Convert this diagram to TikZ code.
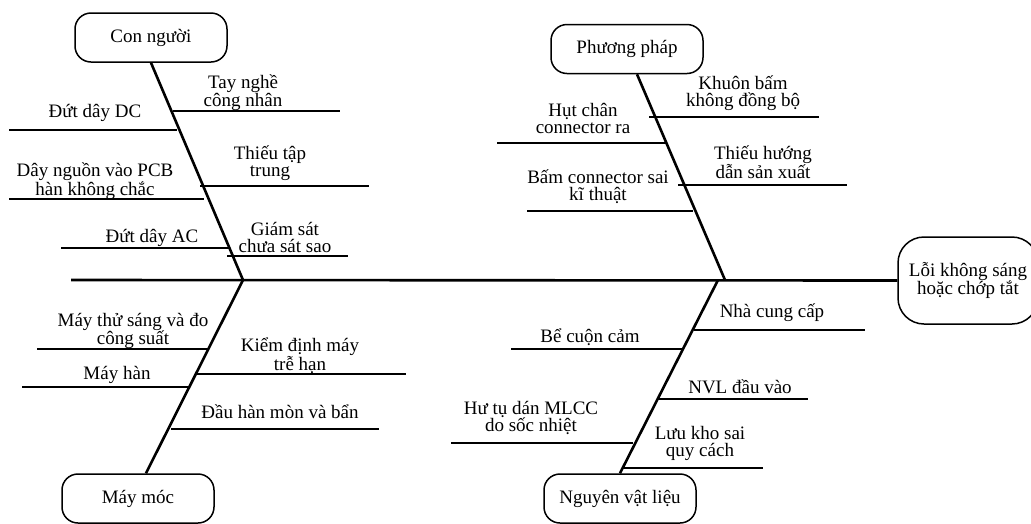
\documentclass[tikz,border=0pt]{standalone}
\usepackage{fontspec}
\setmainfont{Liberation Serif}
\usetikzlibrary{calc}

\begin{document}
\begin{tikzpicture}[x=1pt,y=-1pt,
    font=\fontsize{19pt}{17pt}\selectfont,
    bone/.style={line width=2.6pt},
    rib/.style={line width=2.2pt},
    catbox/.style={draw,line width=1.5pt,rounded corners=16pt,minimum width=152pt,minimum height=49pt,inner sep=0pt},
    lbl/.style={align=center,inner sep=0pt}]
      \useasboundingbox (0,0) rectangle (1031,523);
      % khung va dau ca
      \node[catbox] (con) at (151,37.5) {Con người};
      \node[catbox] (pp) at (627,49) {Phương pháp};
      \node[catbox] (may) at (138,498.5) {Máy móc};
      \node[catbox] (nvl) at (620,498.5) {Nguyên vật liệu};
      \node[draw,line width=1.5pt,rounded corners=26pt,minimum width=140pt,minimum height=87pt,align=center,inner sep=0pt] (loi) at (968,280.5) {Lỗi không sáng\\hoặc chớp tắt};
      \coordinate (duoi) at (71,280);
      \coordinate (jl) at (243,280);
      \coordinate (jr) at (725,280);
      \draw [bone] (duoi) -- (loi.west);
      \draw [bone] (con.south) -- (jl);
      \draw [bone] ($(pp.south)+(10,0)$) -- (jr);
      \draw [bone] (jl) -- ($(may.north)+(8,0)$);
      \draw [bone] ($(jr)+(-7,0)$) -- (nvl.north);
      % con nguoi
      \draw [rib] (173,111) -- (340,111);
      \node[lbl] (tayn) at (243,93) {Tay nghề\\công nhân};
      \draw [rib] (9,130) -- (177,130);
      \node[lbl] (dc) at (95,113) {Đứt dây DC};
      \draw [rib] (200,186) -- (369,186);
      \node[lbl] (tap) at (270,163) {Thiếu tập\\trung};
      \draw [rib] (9,199) -- (204,199);
      \node[lbl] (pcb) at (95,181) {Dây nguồn vào PCB\\hàn không chắc};
      \draw [rib] (227,256) -- (348,256);
      \node[lbl] (gs) at (285,237) {Giám sát\\chưa sát sao};
      \draw [rib] (61,248) -- (230,248);
      \node[lbl] (ac) at (152,238) {Đứt dây AC};
      % phuong phap
      \draw [rib] (649,117) -- (819,117);
      \node[lbl] (khuon) at (743,93) {Khuôn bấm\\không đồng bộ};
      \draw [rib] (497,143) -- (667,143);
      \node[lbl] (hut) at (583,118) {Hụt chân\\connector ra};
      \draw [rib] (678,185) -- (847,185);
      \node[lbl] (hd) at (763,162) {Thiếu hướng\\dẫn sản xuất};
      \draw [rib] (527,211) -- (693,211);
      \node[lbl] (bam) at (598,187) {Bấm connector sai\\kĩ thuật};
      % may moc
      \draw [rib] (37,349) -- (209,349);
      \node[lbl] (thu) at (133,331) {Máy thử sáng và đo\\công suất};
      \draw [rib] (197,374) -- (406,374);
      \node[lbl] (kd) at (300,356) {Kiểm định máy\\trễ hạn};
      \draw [rib] (22,387) -- (190,387);
      \node[lbl] (han) at (117,375) {Máy hàn};
      \draw [rib] (171,429) -- (379,429);
      \node[lbl] (dau) at (280,412) {Đầu hàn mòn và bẩn};
      % nguyen vat lieu
      \draw [rib] (694,330) -- (865,330);
      \node[lbl] (ncc) at (772,313) {Nhà cung cấp};
      \draw [rib] (511,349) -- (682,349);
      \node[lbl] (cuon) at (590,337) {Bể cuộn cảm};
      \draw [rib] (657,399) -- (808,399);
      \node[lbl] (nvlv) at (740,387) {NVL đầu vào};
      \draw [rib] (451,443) -- (633,443);
      \node[lbl] (mlcc) at (531,418) {Hư tụ dán MLCC\\do sốc nhiệt};
      \draw [rib] (622,468) -- (763,468);
      \node[lbl] (kho) at (700,443) {Lưu kho sai\\quy cách};
    \end{tikzpicture}
\end{document}
